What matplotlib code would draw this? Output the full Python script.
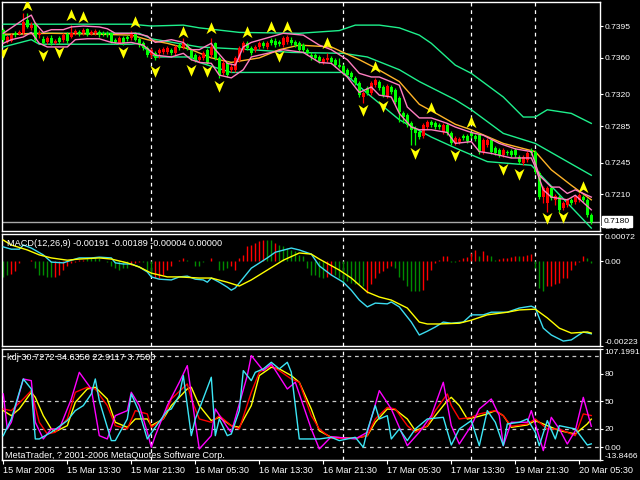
import numpy as np
import matplotlib
matplotlib.use('Agg')
import matplotlib.pyplot as plt
from matplotlib.path import Path

plt.rcParams['font.family'] = ['Liberation Sans', 'DejaVu Sans']

# ---------------- data ----------------
date_labels = ['15 Mar 2006', '15 Mar 13:30', '15 Mar 21:30', '16 Mar 05:30', '16 Mar 13:30',
               '16 Mar 21:30', '17 Mar 05:30', '17 Mar 13:30', '19 Mar 21:30', '20 Mar 05:30']
date_bars = [0, 16, 32, 48, 64, 80, 96, 112, 128, 144]
day_sep_bars = [37, 85, 117, 133]

open_ = [0.7391, 0.7377, 0.7379, 0.7387, 0.7386, 0.7387, 0.7402, 0.7393, 0.7398, 0.7385,
         0.7381, 0.7377, 0.7382, 0.7376, 0.7382, 0.7380, 0.7386, 0.7383, 0.7387, 0.7388,
         0.7387, 0.7392, 0.7386, 0.7387, 0.7388, 0.7387, 0.7387, 0.7387, 0.7380, 0.7376,
         0.7382, 0.7383, 0.7382, 0.7387, 0.7381, 0.7376, 0.7371, 0.7363, 0.7365, 0.7365,
         0.7366, 0.7366, 0.7369, 0.7365, 0.7374, 0.7372, 0.7374, 0.7369, 0.7363, 0.7358,
         0.7360, 0.7369, 0.7363, 0.7376, 0.7360, 0.7343, 0.7354, 0.7347, 0.7347, 0.7358,
         0.7369, 0.7376, 0.7371, 0.7369, 0.7372, 0.7376, 0.7372, 0.7380, 0.7379, 0.7377,
         0.7374, 0.7377, 0.7380, 0.7377, 0.7376, 0.7374, 0.7369, 0.7363, 0.7363, 0.7361,
         0.7355, 0.7358, 0.7360, 0.7358, 0.7352, 0.7351, 0.7347, 0.7343, 0.7338, 0.7332,
         0.7317, 0.7327, 0.7321, 0.7330, 0.7333, 0.7328, 0.7318, 0.7328, 0.7325, 0.7316,
         0.7299, 0.7297, 0.7288, 0.7283, 0.7278, 0.7274, 0.7284, 0.7289, 0.7288, 0.7286,
         0.7278, 0.7286, 0.7277, 0.7266, 0.7268, 0.7274, 0.7274, 0.7277, 0.7274, 0.7275,
         0.7257, 0.7264, 0.7270, 0.7261, 0.7259, 0.7253, 0.7257, 0.7258, 0.7259, 0.7251,
         0.7244, 0.7248, 0.7259, 0.7257, 0.7233, 0.7207, 0.7200, 0.7217, 0.7204, 0.7207,
         0.7195, 0.7198, 0.7204, 0.7202, 0.7204, 0.7207, 0.7204, 0.7187]
close = [0.7380, 0.7383, 0.7385, 0.7385, 0.7388, 0.7399, 0.7394, 0.7396, 0.7380, 0.7387,
         0.7376, 0.7382, 0.7376, 0.7379, 0.7377, 0.7385, 0.7379, 0.7387, 0.7390, 0.7386,
         0.7391, 0.7385, 0.7388, 0.7390, 0.7385, 0.7386, 0.7385, 0.7377, 0.7377, 0.7382,
         0.7376, 0.7381, 0.7387, 0.7380, 0.7374, 0.7371, 0.7363, 0.7369, 0.7360, 0.7369,
         0.7370, 0.7371, 0.7365, 0.7372, 0.7371, 0.7376, 0.7371, 0.7360, 0.7358, 0.7361,
         0.7365, 0.7354, 0.7372, 0.7360, 0.7341, 0.7354, 0.7341, 0.7350, 0.7360, 0.7371,
         0.7376, 0.7371, 0.7365, 0.7372, 0.7376, 0.7373, 0.7376, 0.7376, 0.7374, 0.7375,
         0.7382, 0.7383, 0.7376, 0.7374, 0.7369, 0.7369, 0.7365, 0.7361, 0.7360, 0.7357,
         0.7359, 0.7360, 0.7355, 0.7352, 0.7350, 0.7343, 0.7341, 0.7339, 0.7332, 0.7319,
         0.7321, 0.7321, 0.7332, 0.7336, 0.7327, 0.7319, 0.7329, 0.7322, 0.7312, 0.7300,
         0.7295, 0.7286, 0.7281, 0.7277, 0.7273, 0.7286, 0.7289, 0.7286, 0.7284, 0.7284,
         0.7286, 0.7277, 0.7266, 0.7272, 0.7271, 0.7272, 0.7269, 0.7274, 0.7271, 0.7257,
         0.7270, 0.7270, 0.7257, 0.7255, 0.7253, 0.7259, 0.7255, 0.7253, 0.7253, 0.7246,
         0.7251, 0.7255, 0.7255, 0.7235, 0.7207, 0.7217, 0.7217, 0.7206, 0.7208, 0.7193,
         0.7200, 0.7204, 0.7200, 0.7207, 0.7209, 0.7204, 0.7187, 0.7180]
high = [0.7393, 0.7385, 0.7387, 0.7390, 0.7391, 0.7409, 0.7409, 0.7399, 0.7399, 0.7391,
        0.7384, 0.7384, 0.7385, 0.7381, 0.7384, 0.7387, 0.7388, 0.7396, 0.7392, 0.7391,
        0.7393, 0.7393, 0.7391, 0.7392, 0.7391, 0.7390, 0.7390, 0.7388, 0.7382, 0.7384,
        0.7384, 0.7385, 0.7390, 0.7388, 0.7383, 0.7379, 0.7373, 0.7371, 0.7368, 0.7371,
        0.7372, 0.7373, 0.7371, 0.7374, 0.7376, 0.7382, 0.7376, 0.7371, 0.7365, 0.7363,
        0.7368, 0.7371, 0.7382, 0.7377, 0.7362, 0.7358, 0.7357, 0.7353, 0.7362, 0.7373,
        0.7379, 0.7379, 0.7373, 0.7374, 0.7379, 0.7379, 0.7379, 0.7382, 0.7382, 0.7380,
        0.7384, 0.7385, 0.7383, 0.7380, 0.7379, 0.7376, 0.7371, 0.7366, 0.7365, 0.7363,
        0.7361, 0.7365, 0.7362, 0.7360, 0.7360, 0.7353, 0.7349, 0.7346, 0.7340, 0.7335,
        0.7324, 0.7329, 0.7335, 0.7338, 0.7336, 0.7330, 0.7331, 0.7330, 0.7327, 0.7318,
        0.7302, 0.7299, 0.7291, 0.7285, 0.7281, 0.7288, 0.7292, 0.7292, 0.7291, 0.7288,
        0.7288, 0.7288, 0.7280, 0.7274, 0.7273, 0.7276, 0.7276, 0.7280, 0.7276, 0.7277,
        0.7272, 0.7272, 0.7272, 0.7263, 0.7261, 0.7261, 0.7259, 0.7260, 0.7261, 0.7253,
        0.7253, 0.7258, 0.7261, 0.7259, 0.7236, 0.7219, 0.7219, 0.7219, 0.7210, 0.7209,
        0.7203, 0.7206, 0.7206, 0.7209, 0.7211, 0.7209, 0.7206, 0.7189]
low = [0.7377, 0.7376, 0.7377, 0.7383, 0.7385, 0.7385, 0.7393, 0.7391, 0.7377, 0.7382,
       0.7374, 0.7375, 0.7374, 0.7375, 0.7375, 0.7377, 0.7376, 0.7382, 0.7385, 0.7384,
       0.7385, 0.7384, 0.7385, 0.7385, 0.7383, 0.7384, 0.7383, 0.7376, 0.7375, 0.7375,
       0.7374, 0.7379, 0.7380, 0.7379, 0.7372, 0.7369, 0.7361, 0.7360, 0.7358, 0.7360,
       0.7364, 0.7364, 0.7363, 0.7363, 0.7369, 0.7370, 0.7369, 0.7358, 0.7355, 0.7355,
       0.7358, 0.7352, 0.7361, 0.7358, 0.7338, 0.7341, 0.7339, 0.7344, 0.7344, 0.7355,
       0.7366, 0.7369, 0.7363, 0.7366, 0.7370, 0.7371, 0.7370, 0.7374, 0.7372, 0.7373,
       0.7372, 0.7375, 0.7374, 0.7372, 0.7366, 0.7366, 0.7363, 0.7358, 0.7358, 0.7354,
       0.7353, 0.7355, 0.7353, 0.7350, 0.7349, 0.7341, 0.7339, 0.7337, 0.7330, 0.7317,
       0.7310, 0.7319, 0.7319, 0.7328, 0.7325, 0.7317, 0.7316, 0.7320, 0.7309, 0.7289,
       0.7288, 0.7284, 0.7264, 0.7264, 0.7271, 0.7272, 0.7282, 0.7284, 0.7282, 0.7282,
       0.7276, 0.7275, 0.7264, 0.7264, 0.7265, 0.7270, 0.7266, 0.7272, 0.7269, 0.7254,
       0.7254, 0.7262, 0.7254, 0.7253, 0.7251, 0.7251, 0.7253, 0.7251, 0.7251, 0.7243,
       0.7242, 0.7246, 0.7253, 0.7232, 0.7205, 0.7200, 0.7191, 0.7204, 0.7198, 0.7191,
       0.7193, 0.7196, 0.7198, 0.7199, 0.7202, 0.7202, 0.7185, 0.7177]

# outer (green) band lines, read at sample bars
up_green_bars = [0, 9, 32, 37, 45, 49, 59, 74, 84, 88, 94, 99, 104, 107, 113, 117, 125, 130, 133, 136, 142, 147]
up_green = [0.7397, 0.7397, 0.7397, 0.7395, 0.7396, 0.7393, 0.7388, 0.7387, 0.7390, 0.7396, 0.7396,
            0.7393, 0.7385, 0.7376, 0.7352, 0.7343, 0.7317, 0.7295, 0.7295, 0.7303, 0.7299, 0.7288]
mid_green_bars = [0, 7, 34, 37, 49, 62, 72, 85, 91, 99, 104, 113, 117, 125, 133, 147]
mid_green = [0.7385, 0.7387, 0.7387, 0.7381, 0.7372, 0.7369, 0.7366, 0.7365, 0.7361, 0.7347,
             0.7334, 0.7314, 0.7303, 0.7277, 0.7266, 0.7231]
low_green_bars = [0, 7, 9, 32, 34, 38, 47, 49, 57, 85, 91, 99, 107, 113, 121, 132, 142, 147]
low_green = [0.7372, 0.7380, 0.7375, 0.7375, 0.7376, 0.7361, 0.7361, 0.7355, 0.7344, 0.7344,
             0.7321, 0.7292, 0.7273, 0.7261, 0.7246, 0.7242, 0.7196, 0.7173]

# inner (pink) band lines
pink_up_bars = [0, 2, 5, 7, 8, 10, 12, 15, 17, 20, 24, 26, 28, 31, 33, 36, 38, 42, 45, 47,
                49, 52, 53, 56, 58, 60, 62, 66, 70, 75, 79, 82, 86, 89, 92, 94, 99, 101, 104, 107,
                111, 113, 117, 120, 124, 128, 132, 134, 137, 139, 141, 143, 147]
pink_up = [0.7387, 0.7393, 0.7402, 0.7407, 0.7398, 0.7388, 0.7391, 0.7391, 0.7394, 0.7395,
           0.7394, 0.7392, 0.7387, 0.7387, 0.7387, 0.7384, 0.7377, 0.7380, 0.7377, 0.7369,
           0.7369, 0.7376, 0.7369, 0.7354, 0.7352, 0.7372, 0.7377, 0.7382, 0.7387, 0.7385,
           0.7374, 0.7369, 0.7358, 0.7343, 0.7339, 0.7339, 0.7330, 0.7306, 0.7294, 0.7294,
           0.7288, 0.7284, 0.7278, 0.7275, 0.7266, 0.7260, 0.7257, 0.7231, 0.7218, 0.7218,
           0.7211, 0.7215, 0.7207]
pink_lo_bars = [0, 2, 5, 7, 9, 11, 16, 18, 21, 24, 27, 29, 32, 35, 38, 42, 45, 47, 49, 52,
                54, 57, 60, 62, 66, 70, 75, 79, 82, 86, 89, 92, 94, 97, 99, 102, 104, 107, 111, 113,
                117, 119, 122, 127, 132, 133, 135, 137, 141, 143, 147]
pink_lo = [0.7376, 0.7380, 0.7383, 0.7388, 0.7376, 0.7372, 0.7372, 0.7380, 0.7381, 0.7381,
           0.7377, 0.7376, 0.7377, 0.7374, 0.7363, 0.7361, 0.7365, 0.7358, 0.7355, 0.7354,
           0.7341, 0.7338, 0.7347, 0.7361, 0.7365, 0.7369, 0.7366, 0.7355, 0.7354, 0.7339,
           0.7322, 0.7328, 0.7319, 0.7317, 0.7299, 0.7284, 0.7281, 0.7281, 0.7278, 0.7266,
           0.7268, 0.7257, 0.7255, 0.7250, 0.7250, 0.7240, 0.7215, 0.7207, 0.7204, 0.7209,
           0.7193]

# slow moving average (orange)
orange_bars = [0, 12, 24, 32, 36, 41, 47, 52, 57, 64, 69, 74, 82, 85, 89, 93, 99, 104, 109, 113,
               117, 125, 133, 137, 142, 147]
orange_ma = [0.7386, 0.7387, 0.7386, 0.7385, 0.7380, 0.7376, 0.7369, 0.7360, 0.7355, 0.7360,
             0.7369, 0.7374, 0.7372, 0.7366, 0.7358, 0.7349, 0.7334, 0.7309, 0.7297, 0.7287,
             0.7281, 0.7266, 0.7257, 0.7237, 0.7220, 0.7204]

# fractals
frac_up_bars = [6, 17, 20, 33, 45, 52, 61, 67, 71, 81, 93, 107, 117, 145]
frac_up = [0.7418, 0.7407, 0.7405, 0.7399, 0.7388, 0.7393, 0.7388, 0.7394, 0.7394, 0.7376,
           0.7350, 0.7305, 0.7290, 0.7218]
frac_dn_bars = [0, 10, 14, 30, 38, 47, 51, 54, 69, 90, 95, 103, 113, 125, 129, 136, 140]
frac_dn = [0.7366, 0.7363, 0.7366, 0.7366, 0.7346, 0.7347, 0.7346, 0.7329, 0.7362, 0.7303,
           0.7307, 0.7255, 0.7253, 0.7238, 0.7232, 0.7184, 0.7185]

last_price = 0.7180
price_ticks = [0.7395, 0.7360, 0.7320, 0.7285, 0.7245, 0.7210, 0.7175]

# MACD
macd_hist = [-0.00040, -0.00035, -0.00034, -0.00026, -0.00004, 0.00002, 0.00001, 0.00004, -0.00018, -0.00035,
             -0.00035, -0.00040, -0.00040, -0.00040, -0.00035, -0.00022, -0.00013, -0.00004, -0.00001, 0.00004,
             0.00004, 0.00009, 0.00009, 0.00009, 0.00009, 0.00001, -0.00001, -0.00013, -0.00018, -0.00022,
             -0.00018, -0.00018, -0.00009, -0.00004, -0.00001, -0.00003, -0.00022, -0.00035, -0.00044, -0.00044,
             -0.00035, -0.00022, -0.00013, 0.00001, 0.00004, 0.00009, 0.00004, 0.00001, -0.00013, -0.00013,
             -0.00001, 0.00001, 0.00009, 0.00001, -0.00022, -0.00022, -0.00018, -0.00013, -0.00022, 0.00009,
             0.00018, 0.00040, 0.00044, 0.00048, 0.00053, 0.00057, 0.00057, 0.00055, 0.00048, 0.00044,
             0.00040, 0.00035, 0.00031, 0.00026, 0.00018, 0.00013, -0.00018, -0.00035, -0.00035, -0.00040,
             -0.00044, -0.00040, -0.00035, -0.00035, -0.00044, -0.00057, -0.00053, -0.00057, -0.00061, -0.00061,
             -0.00066, -0.00083, -0.00061, -0.00044, -0.00031, -0.00026, -0.00018, -0.00013, -0.00018, -0.00040,
             -0.00048, -0.00066, -0.00079, -0.00079, -0.00079, -0.00075, -0.00048, -0.00022, -0.00004, 0.00004,
             0.00013, 0.00013, -0.00002, -0.00001, 0.00004, 0.00009, 0.00011, 0.00022, 0.00031, 0.00013,
             0.00028, 0.00018, 0.00013, 0.00003, 0.00006, 0.00009, 0.00009, 0.00011, 0.00013, 0.00013,
             0.00013, 0.00018, 0.00019, -0.00018, -0.00070, -0.00079, -0.00066, -0.00066, -0.00061, -0.00057,
             -0.00044, -0.00044, -0.00022, -0.00009, -0.00001, 0.00013, 0.00009, -0.00004]
macd_hist_dir = ("ggrrrrrrgg" "gggrrrrrrr" "rggggggggg" "ggrrrgggrr" "rrrrrrgggg"
                 "grrggggrrr" "rrrrrrggrg" "gggggggggg" "grrggggggg" "grrrrrrrgg"
                 "gggggrrrrr" "rrggrrrrrg" "rrggrrrrrg" "rrrgggrrrr" "rrrrrrgg")
macd_bars = [0, 2, 4, 5, 7, 10, 12, 15, 17, 19, 22, 24, 27, 28, 30, 32, 34, 36, 37, 39,
             42, 44, 46, 48, 50, 51, 52, 54, 56, 57, 58, 60, 62, 66, 68, 72, 74, 77, 79, 82,
             85, 87, 89, 91, 93, 96, 97, 99, 102, 104, 106, 108, 110, 112, 115, 117, 120, 122, 126, 129,
             132, 133, 135, 137, 140, 142, 145, 147]
macd_main = [0.00038, 0.00032, 0.00032, 0.00043, 0.00035, 0.00017, -0.00002, -0.00004, 0.00003, 0.00009,
             0.00009, 0.00011, 0.00009, -0.00004, -0.00007, -0.00007, -0.00015, -0.00028, -0.00041, -0.00047,
             -0.00049, -0.00041, -0.00039, -0.00047, -0.00049, -0.00055, -0.00044, -0.00055, -0.00068, -0.00076,
             -0.00070, -0.00044, -0.00018, 0.00009, 0.00024, 0.00035, 0.00030, 0.00019, -0.00012, -0.00036,
             -0.00055, -0.00076, -0.00102, -0.00120, -0.00110, -0.00112, -0.00107, -0.00120, -0.00160, -0.00194,
             -0.00184, -0.00173, -0.00160, -0.00163, -0.00160, -0.00141, -0.00141, -0.00134, -0.00134, -0.00123,
             -0.00118, -0.00123, -0.00176, -0.00194, -0.00210, -0.00207, -0.00186, -0.00191]
signal_bars = [0, 2, 6, 9, 12, 16, 19, 24, 27, 31, 34, 37, 41, 44, 49, 52, 56, 59, 62, 66,
               70, 74, 77, 79, 84, 87, 91, 94, 97, 101, 104, 106, 109, 114, 117, 121, 126, 129, 133, 136,
               139, 142, 146, 147]
macd_signal = [0.00056, 0.00043, 0.00030, 0.00017, 0.00009, 0.00003, 0.00006, 0.00009, 0.00006, -0.00004,
               -0.00015, -0.00031, -0.00041, -0.00041, -0.00044, -0.00044, -0.00055, -0.00065, -0.00049, -0.00023,
               0.00003, 0.00022, 0.00019, 0.00006, -0.00023, -0.00044, -0.00081, -0.00094, -0.00102, -0.00123,
               -0.00160, -0.00165, -0.00165, -0.00163, -0.00155, -0.00141, -0.00134, -0.00128, -0.00126, -0.00149,
               -0.00176, -0.00189, -0.00186, -0.00189]
macd_ticks = [0.00072, 0.0, -0.00223]
macd_tick_labels = ['0.00072', '0.00', '-0.00223']

# KDJ
kdj1_bars = [0, 2, 4, 7, 8, 10, 12, 13, 16, 18, 21, 23, 26, 28, 31, 33, 36, 37, 40, 42,
             46, 47, 49, 52, 54, 57, 59, 62, 64, 67, 69, 72, 74, 77, 79, 82, 88, 91, 93, 96,
             98, 101, 103, 106, 108, 111, 112, 114, 116, 118, 121, 123, 125, 127, 131, 133, 136, 139, 143, 146,
             147]
kdj1 = [40.0, 34.5, 41.8, 60.0, 54.5, 34.5, 20.0, 17.1, 23.6, 49.1, 63.6, 65.5, 52.7, 27.3, 21.8, 30.9, 30.9, 23.6, 30.9, 45.5,
        63.6, 65.5, 45.5, 29.1, 32.7, 23.6, 21.8, 45.5, 78.2, 87.3, 85.5, 78.2, 70.9, 41.8, 18.0, 10.9, 9.8, 12.7, 27.3, 41.8,
        41.1, 30.9, 18.2, 22.9, 34.5, 50.9, 54.5, 45.5, 30.9, 32.7, 36.4, 40.0, 34.5, 21.8, 24.4, 29.1, 23.6, 18.2, 14.5, 25.5,
        30.7272]
kdj2_bars = [0, 2, 5, 7, 9, 11, 13, 16, 18, 21, 23, 26, 28, 31, 33, 36, 37, 40, 42, 46,
             47, 49, 52, 54, 57, 59, 62, 64, 67, 69, 72, 74, 77, 79, 82, 88, 91, 93, 96, 98,
             101, 103, 106, 108, 111, 112, 114, 117, 119, 123, 125, 127, 131, 133, 136, 139, 143, 145, 147]
kdj2 = [41.8, 40.0, 52.7, 61.8, 27.3, 14.5, 16.4, 30.9, 60.0, 65.5, 63.6, 45.5, 23.6, 20.0, 40.0, 36.4, 21.8, 30.9, 52.7, 69.1,
        52.7, 30.9, 27.3, 34.5, 23.6, 20.0, 60.0, 81.8, 89.1, 83.6, 74.5, 70.9, 34.5, 20.0, 9.8, 9.8, 12.7, 30.9, 43.6, 41.8,
        23.6, 16.4, 23.6, 40.0, 58.2, 45.5, 30.9, 32.7, 36.4, 40.0, 34.5, 22.9, 25.5, 30.9, 20.0, 20.0, 12.7, 36.4, 34.6350]
kdj3_bars = [0, 1, 2, 5, 7, 8, 10, 12, 14, 17, 19, 22, 24, 26, 28, 31, 32, 34, 36, 37,
             38, 41, 44, 46, 48, 49, 52, 53, 56, 57, 59, 61, 62, 65, 67, 71, 73, 77, 79, 82,
             88, 91, 94, 97, 101, 104, 107, 110, 112, 114, 117, 119, 122, 124, 125, 127, 131, 132, 135, 137,
             139, 141, 143, 145, 147]
kdj3 = [58.2, 20.0, 27.3, 74.5, 72.7, 27.3, 9.1, 20.0, 20.0, 52.7, 81.8, 63.6, 12.7, 9.1, 34.5, 40.0, 60.0, 45.5, 16.4, 0.0,
        12.7, 45.5, 70.9, 89.1, 27.3, -1.8, 12.7, 41.8, 21.8, 16.4, 47.3, 78.2, 100.0, 83.6, 90.9, 63.6, 70.9, 20.0, -1.8, 11.6,
        9.1, 16.4, 61.8, 41.8, 1.8, 16.4, 34.5, 70.9, 23.6, 3.6, 23.6, 41.8, 52.7, 34.5, 1.8, 27.3, 27.3, 40.0, -3.6, 32.7,
        20.0, 3.6, 18.2, 54.5, 22.9117]
kdj4_bars = [0, 2, 3, 5, 7, 8, 9, 12, 16, 18, 20, 22, 23, 24, 27, 28, 31, 32, 34, 36,
             38, 41, 42, 44, 45, 47, 48, 49, 52, 53, 54, 56, 57, 59, 60, 62, 63, 65, 67, 69,
             71, 72, 74, 77, 79, 82, 84, 88, 90, 91, 93, 94, 96, 97, 99, 101, 103, 106, 110, 112,
             114, 117, 119, 121, 123, 125, 126, 129, 131, 133, 134, 136, 138, 139, 143, 146, 147]
kdj4 = [12.7, 30.9, 45.5, 74.5, 63.6, 9.1, 9.1, 16.4, 29.1, 40.0, 45.5, 58.2, 74.5, 50.9, 7.3, 7.3, 30.9, 58.2, 38.2, 9.1,
        21.8, 40.0, 41.8, 56.4, 78.2, 12.7, 30.9, 41.8, 76.4, 12.7, 30.9, 12.7, 14.5, 40.0, 83.6, 72.7, 81.8, 85.5, 92.7, 85.5,
        92.7, 81.8, 9.1, 9.1, 9.1, 10.9, 7.3, 10.9, 0.0, 18.2, 45.5, 30.9, 34.5, 9.1, 20.0, 7.3, 20.0, 30.9, 32.7, 2.5,
        20.0, 29.1, 1.8, 40.0, 27.3, 1.8, 25.5, 27.3, 30.9, 16.4, 1.8, 29.1, 9.1, 23.6, 20.0, 2.5, 3.75]
kdj_levels = [100, 50, 20, 0]
kdj_ticks = [107.1991, 80, 50, 20, 0, -13.8466]
kdj_tick_labels = ['107.1991', '80', '50', '20', '0.00', '-13.8466']

# ---------------- drawing ----------------
W, H = 640, 480
fig = plt.figure(figsize=(6.4, 4.8), dpi=100, facecolor='black')
DASH = (0, (3, 3))
YLAB = 6.1


def panel(top, bottom):
    ax = fig.add_axes([2 / W, 1 - bottom / H, 598 / W, (bottom - top) / H])
    ax.set_facecolor('black')
    for s in ax.spines.values():
        s.set_color('white')
        s.set_linewidth(1)
    ax.set_xlim(-0.325, 149.175)
    ax.tick_params(axis='x', bottom=False, labelbottom=False)
    ax.yaxis.tick_right()
    ax.tick_params(axis='y', colors='white', labelsize=YLAB, length=2.2, width=0.8, pad=1.2)
    for b in day_sep_bars:
        ax.axvline(b, color='white', lw=0.9, ls=DASH, zorder=0.5)
    return ax


# main price panel
ax1 = panel(2, 231)
ax1.set_ylim(0.716975, 0.742140)
idx = np.arange(len(close))
o = np.array(open_)
c = np.array(close)
cols = np.where(c >= o, '#FF0000', '#00FF00')
ax1.vlines(idx, low, high, colors=cols, lw=0.9, zorder=4)
ax1.bar(idx, np.maximum(np.abs(c - o), 0.00004), bottom=np.minimum(o, c), width=0.72,
        color=cols, lw=0, zorder=5)

ax1.plot(up_green_bars, up_green, color='#1EF08C', lw=1, zorder=3)
ax1.plot(mid_green_bars, mid_green, color='#1EF08C', lw=1, zorder=3)
ax1.plot(low_green_bars, low_green, color='#1EF08C', lw=1, zorder=3)
ax1.plot(orange_bars, orange_ma, color='#FFB428', lw=1, zorder=3)
ax1.plot(pink_up_bars, pink_up, color='#FF7EC0', lw=1, zorder=6)
ax1.plot(pink_lo_bars, pink_lo, color='#FF7EC0', lw=1, zorder=6)
ax1.axhline(last_price, color='#A8A8A8', lw=1, zorder=2)

V = [Path.MOVETO, Path.LINETO, Path.LINETO, Path.LINETO, Path.CLOSEPOLY]
up_arrow = Path([(0, 1), (0.8, -0.9), (0, -0.35), (-0.8, -0.9), (0, 1)], V)
dn_arrow = Path([(0, -1), (0.8, 0.9), (0, 0.35), (-0.8, 0.9), (0, -1)], V)
ax1.plot(frac_up_bars, frac_up, ls='none', marker=up_arrow, ms=9, color='#FFFF00', mew=0, zorder=7)
ax1.plot(frac_dn_bars, frac_dn, ls='none', marker=dn_arrow, ms=9, color='#FFFF00', mew=0, zorder=7)

ax1.set_yticks(price_ticks)
ax1.set_yticklabels(['%.4f' % v for v in price_ticks])
ax1.annotate('%.4f' % last_price, xy=(1, last_price), xycoords=('axes fraction', 'data'),
             xytext=(4, 0), textcoords='offset pixels', va='center', ha='left',
             color='black', fontsize=YLAB, annotation_clip=False, zorder=20,
             bbox=dict(boxstyle='square,pad=0.25', fc='white', ec='white'))

# MACD panel
ax2 = panel(234, 346)
ax2.set_ylim(-0.00223, 0.00072)
hcols = ['#FF0000' if ch == 'r' else '#008C00' for ch in macd_hist_dir]
ax2.vlines(idx, 0, macd_hist, colors=hcols, lw=1, zorder=2)
ax2.plot(macd_bars, macd_main, color='#3CDCF0', lw=1, zorder=3)
ax2.plot(signal_bars, macd_signal, color='#FFFF00', lw=1, zorder=3)
ax2.set_yticks(macd_ticks)
ax2.set_yticklabels(macd_tick_labels)
tl = ax2.get_yticklabels()
tl[0].set_va('top')
tl[-1].set_va('bottom')

# KDJ panel
ax3 = panel(349, 460)
ax3.set_ylim(-13.8466, 107.1991)
for lv in kdj_levels:
    ax3.axhline(lv, color='#C8C8C8', lw=0.9, ls=DASH, zorder=0.5)
ax3.plot(kdj1_bars, kdj1, color='#FFFF00', lw=1, zorder=3)
ax3.plot(kdj2_bars, kdj2, color='#FF0000', lw=1, zorder=3)
ax3.plot(kdj3_bars, kdj3, color='#FF00FF', lw=1, zorder=3)
ax3.plot(kdj4_bars, kdj4, color='#3CE6F5', lw=1, zorder=3)
ax3.set_yticks(kdj_ticks)
ax3.set_yticklabels(kdj_tick_labels)
tl = ax3.get_yticklabels()
tl[0].set_va('top')
tl[-1].set_va('bottom')

ax3.set_xticks(date_bars)
ax3.set_xticklabels(date_labels)
ax3.tick_params(axis='x', bottom=True, labelbottom=True, colors='white', labelsize=6.6,
                length=3, width=0.8, pad=1.5)
for lab in ax3.get_xticklabels():
    lab.set_ha('left')

# header texts
fig.text(7 / W, 1 - 243 / H, 'MACD(12,26,9) -0.00191 -0.00189 -0.00004 0.00000',
         color='white', fontsize=6.6, va='center', ha='left')
fig.text(7 / W, 1 - 358 / H, 'kdj 30.7272 34.6350 22.9117 3.7500',
         color='white', fontsize=6.6, va='center', ha='left')
fig.text(5 / W, 1 - 455 / H, 'MetaTrader, ? 2001-2006 MetaQuotes Software Corp.',
         color='white', fontsize=6.6, va='center', ha='left')

fig.savefig('out.png', dpi=100, facecolor='black')
